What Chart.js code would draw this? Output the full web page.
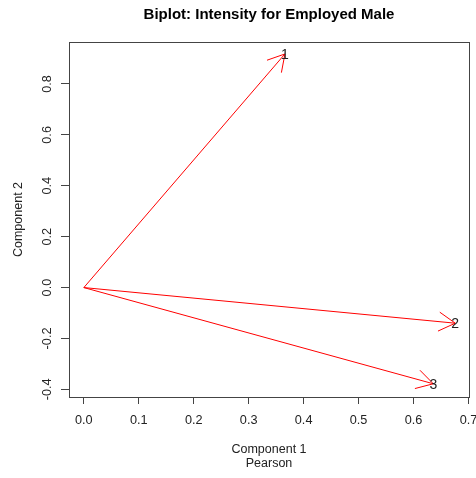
<!DOCTYPE html>
<html>
<head>
<meta charset="utf-8">
<script src="https://cdn.jsdelivr.net/npm/chart.js@4/dist/chart.umd.min.js"></script>
<style>
  html, body { margin: 0; padding: 0; background: #fff; }
  #wrap { width: 476px; height: 478px; }
</style>
</head>
<body>
<div id="wrap"><canvas id="chartBiplot" width="476" height="478"></canvas></div>
<script>
// ---- data ----
const varLabels = ["1", "2", "3"];
const comp1 = [0.366, 0.676, 0.636];   // Component 1 loadings
const comp2 = [0.918, -0.140, -0.378]; // Component 2 loadings
const xTicks = [0, 0.1, 0.2, 0.3, 0.4, 0.5, 0.6, 0.7];
const yTicks = [-0.4, -0.2, 0, 0.2, 0.4, 0.6, 0.8];

const titleText = "Biplot: Intensity for Employed Male";
const FONT = "'Liberation Sans', Arial, sans-serif";
const ARROW = "rgb(255,0,0)";
const INK = "#222";

// one dataset per arrow: origin -> loading
const datasets = varLabels.map((lab, i) => ({
  label: lab,
  data: [{ x: 0, y: 0 }, { x: comp1[i], y: comp2[i] }],
  showLine: true,
  borderColor: ARROW,
  borderWidth: 1,
  pointRadius: 0,
  fill: false
}));

// box, title, tick labels (R style), arrow heads, arrow labels
const biplotDecor = {
  id: "biplotDecor",
  afterDatasetsDraw(chart) {
    const { ctx, chartArea: a, scales: { x, y } } = chart;
    ctx.save();

    // arrow heads
    ctx.strokeStyle = ARROW;
    ctx.lineWidth = 1;
    const len = 19, ang = Math.PI / 6;
    comp1.forEach((cx, i) => {
      const x0 = x.getPixelForValue(0), y0 = y.getPixelForValue(0);
      const x1 = x.getPixelForValue(cx), y1 = y.getPixelForValue(comp2[i]);
      const th = Math.atan2(y1 - y0, x1 - x0);
      ctx.beginPath();
      ctx.moveTo(x1 - len * Math.cos(th - ang), y1 - len * Math.sin(th - ang));
      ctx.lineTo(x1, y1);
      ctx.lineTo(x1 - len * Math.cos(th + ang), y1 - len * Math.sin(th + ang));
      ctx.stroke();
    });

    // variable labels at the arrow tips
    ctx.fillStyle = INK;
    ctx.font = "14px " + FONT;
    ctx.textAlign = "center";
    ctx.textBaseline = "middle";
    varLabels.forEach((lab, i) => {
      ctx.fillText(lab, x.getPixelForValue(comp1[i]), y.getPixelForValue(comp2[i]) + 1);
    });

    // plot box
    ctx.strokeStyle = "#444";
    ctx.lineWidth = 1;
    ctx.strokeRect(Math.round(a.left) + 0.5, Math.round(a.top) + 0.5,
      Math.round(a.right - a.left), Math.round(a.bottom - a.top));

    // tick labels
    ctx.font = "12.7px " + FONT;
    x.ticks.forEach(t => {
      ctx.fillText(t.value.toFixed(1), x.getPixelForValue(t.value), a.bottom + 23);
    });
    y.ticks.forEach(t => {
      ctx.save();
      ctx.translate(a.left - 22, y.getPixelForValue(t.value));
      ctx.rotate(-Math.PI / 2);
      ctx.fillText(t.value.toFixed(1), 0, 0);
      ctx.restore();
    });

    // main title centred over plot region
    ctx.font = "bold 15px " + FONT;
    ctx.fillStyle = "#000";
    ctx.fillText(titleText, (a.left + a.right) / 2, 15);
    ctx.restore();
  }
};

new Chart(document.getElementById("chartBiplot"), {
  type: "scatter",
  data: { datasets },
  plugins: [biplotDecor],
  options: {
    responsive: false,
    animation: false,
    layout: { padding: { top: 42, right: 7, left: 0, bottom: 0 } },
    plugins: { legend: { display: false }, tooltip: { enabled: false } },
    scales: {
      x: {
        type: "linear",
        min: -0.027,
        max: 0.701,
        afterFit: s => { s.height = 81; s.paddingLeft = 0; s.paddingRight = 0; },
        afterBuildTicks: s => { s.ticks = xTicks.map(v => ({ value: v })); },
        border: { display: false },
        grid: { drawOnChartArea: false, drawTicks: true, tickLength: 7, color: "#444" },
        ticks: { display: false },
        title: {
          display: true,
          text: ["Component 1", "Pearson"],
          color: INK,
          font: { family: FONT, size: 12.5, lineHeight: 1.15 },
          padding: { top: 0, bottom: 7 }
        }
      },
      y: {
        type: "linear",
        min: -0.43,
        max: 0.965,
        afterFit: s => { s.width = 69; },
        afterBuildTicks: s => { s.ticks = yTicks.map(v => ({ value: v })); },
        border: { display: false },
        grid: { drawOnChartArea: false, drawTicks: true, tickLength: 8, color: "#444" },
        ticks: { display: false },
        title: {
          display: true,
          text: "Component 2",
          color: INK,
          font: { family: FONT, size: 12.5, lineHeight: 1.15 },
          padding: { top: 11, bottom: 0 }
        }
      }
    }
  }
});
</script>
</body>
</html>
